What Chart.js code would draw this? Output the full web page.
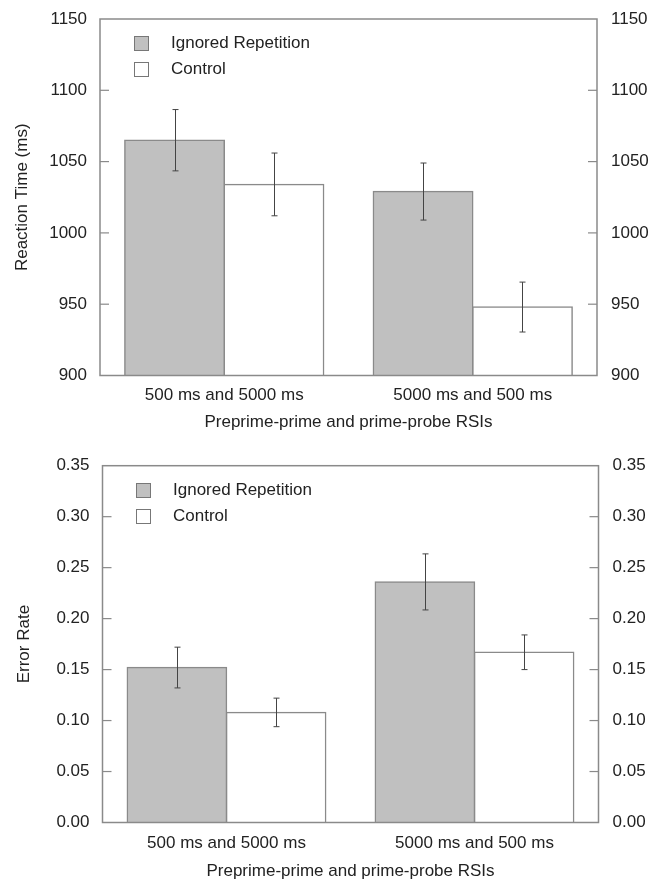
<!DOCTYPE html>
<html>
<head>
<meta charset="utf-8">
<script src="https://cdn.jsdelivr.net/npm/chart.js@4.4.1/dist/chart.umd.min.js"></script>
<style>
  body { margin: 0; background: #fff; font-family: "Liberation Sans", Arial, sans-serif; }
  .panel { position: absolute; left: 0; width: 658px; height: 441px; }
  .legend { position: absolute; font-size: 17px; color: #222; }
  .legend .row { position: relative; height: 26px; line-height: 15px; }
  .legend .sw { position: absolute; left: 0; top: 0; width: 13px; height: 13px; border: 1px solid #777; }
  .legend .tx { position: absolute; left: 37px; top: -1px; white-space: nowrap; }
</style>
</head>
<body>
<div class="panel" style="top:0"><canvas id="rt" width="658" height="441"></canvas></div>
<div class="panel" style="top:441px"><canvas id="er" width="658" height="441"></canvas></div>

<div class="legend" style="left:134px;top:36px">
  <div class="row"><span class="sw" style="background:#c0c0c0"></span><span class="tx">Ignored Repetition</span></div>
  <div class="row"><span class="sw" style="background:#fff"></span><span class="tx">Control</span></div>
</div>
<div class="legend" style="left:136px;top:483px">
  <div class="row"><span class="sw" style="background:#c0c0c0"></span><span class="tx">Ignored Repetition</span></div>
  <div class="row"><span class="sw" style="background:#fff"></span><span class="tx">Control</span></div>
</div>

<script>
// data
let categories = ['500 ms and 5000 ms', '5000 ms and 500 ms'];
let seriesNames = ['Ignored Repetition', 'Control'];

let rtIgnored = [1065, 1029];
let rtControl = [1034, 948];
let rtIgnoredErr = [21.5, 20];
let rtControlErr = [22, 17.5];

let erIgnored = [0.152, 0.236];
let erControl = [0.108, 0.167];
let erIgnoredErr = [0.02, 0.0275];
let erControlErr = [0.014, 0.017];

const AXIS = '#8a8a8a';
const TEXT = '#222';
const FONT = { family: '"Liberation Sans", Arial, sans-serif', size: 17 };

// frame round the plot area + short inward ticks on both y axes
const framePlugin = {
  id: 'frame',
  afterDraw(chart) {
    const ctx = chart.ctx;
    const a = chart.chartArea;
    ctx.save();
    ctx.strokeStyle = AXIS;
    ctx.lineWidth = 1.5;
    ctx.strokeRect(a.left, a.top, a.right - a.left, a.bottom - a.top);
    ctx.lineWidth = 1.2;
    ['y', 'y2'].forEach(id => {
      const s = chart.scales[id];
      s.ticks.forEach(t => {
        if (t.value <= s.min + 1e-9 || t.value >= s.max - 1e-9) return;
        const py = s.getPixelForValue(t.value);
        ctx.beginPath();
        if (id == 'y') { ctx.moveTo(a.left, py); ctx.lineTo(a.left + 9, py); }
        else { ctx.moveTo(a.right, py); ctx.lineTo(a.right - 9, py); }
        ctx.stroke();
      });
    });
    ctx.restore();
  }
};

const errorPlugin = {
  id: 'errbars',
  afterDatasetsDraw(chart) {
    const ctx = chart.ctx;
    const y = chart.scales.y;
    ctx.save();
    ctx.strokeStyle = '#444';
    ctx.lineWidth = 1;
    chart.data.datasets.forEach((ds, i) => {
      const meta = chart.getDatasetMeta(i);
      meta.data.forEach((bar, j) => {
        const v = ds.data[j], e = ds.errors[j];
        const top = y.getPixelForValue(v + e);
        const bot = y.getPixelForValue(v - e);
        const x = Math.round(bar.x) + 0.5;
        ctx.beginPath();
        ctx.moveTo(x, top); ctx.lineTo(x, bot);
        ctx.moveTo(x - 3, top); ctx.lineTo(x + 3, top);
        ctx.moveTo(x - 3, bot); ctx.lineTo(x + 3, bot);
        ctx.stroke();
      });
    });
    ctx.restore();
  }
};

function makeChart(id, cfg) {
  const yTicks = {
    color: TEXT, font: FONT, stepSize: cfg.step,
    callback: v => v.toFixed(cfg.decimals)
  };
  const noGrid = { display: false, drawTicks: false };
  return new Chart(document.getElementById(id), {
    type: 'bar',
    data: {
      labels: categories,
      datasets: [
        { label: seriesNames[0], data: cfg.ignored, errors: cfg.ignoredErr,
          backgroundColor: '#c0c0c0', borderColor: AXIS, borderWidth: 1.5, inflateAmount: 0.75 },
        { label: seriesNames[1], data: cfg.control, errors: cfg.controlErr,
          backgroundColor: '#ffffff', borderColor: AXIS, borderWidth: 1.5, inflateAmount: 0.75 }
      ]
    },
    options: {
      responsive: false,
      animation: false,
      layout: { padding: { top: cfg.top, left: 0, right: 0, bottom: 0 } },
      datasets: { bar: { barPercentage: 1, categoryPercentage: 0.8 } },
      plugins: { legend: { display: false }, tooltip: { enabled: false } },
      scales: {
        x: {
          grid: noGrid,
          border: { display: false },
          ticks: { color: TEXT, font: FONT, padding: cfg.xPad },
          title: { display: true, text: 'Preprime-prime and prime-probe RSIs', color: TEXT, font: FONT,
                   padding: { top: 0, bottom: cfg.xTitlePad } },
          afterFit: s => { s.height = cfg.xHeight; s.paddingLeft = 0; s.paddingRight = 0; }
        },
        y: {
          position: 'left', min: cfg.min, max: cfg.max,
          grid: noGrid,
          border: { display: false },
          ticks: Object.assign({ padding: 13 }, yTicks),
          title: { display: true, text: cfg.yTitle, color: TEXT, font: FONT,
                   padding: { top: cfg.yTitlePad, bottom: 0 } },
          afterFit: s => { s.width = cfg.left; s.paddingTop = 0; s.paddingBottom = 0; }
        },
        y2: {
          position: 'right', min: cfg.min, max: cfg.max,
          grid: noGrid,
          border: { display: false },
          ticks: Object.assign({ padding: 14 }, yTicks),
          afterFit: s => { s.width = cfg.right; s.paddingTop = 0; s.paddingBottom = 0; }
        }
      }
    },
    plugins: [framePlugin, errorPlugin]
  });
}

makeChart('rt', {
  ignored: rtIgnored, control: rtControl, ignoredErr: rtIgnoredErr, controlErr: rtControlErr,
  min: 900, max: 1150, step: 50, decimals: 0, yTitle: 'Reaction Time (ms)',
  top: 19, xHeight: 65.5, left: 100, right: 61, xPad: 10, xTitlePad: 8, yTitlePad: 12
});

makeChart('er', {
  ignored: erIgnored, control: erControl, ignoredErr: erIgnoredErr, controlErr: erControlErr,
  min: 0, max: 0.35, step: 0.05, decimals: 2, yTitle: 'Error Rate',
  top: 24.7, xHeight: 59.5, left: 102.5, right: 59.5, xPad: 11, xTitlePad: 0, yTitlePad: 14
});
</script>
</body>
</html>
